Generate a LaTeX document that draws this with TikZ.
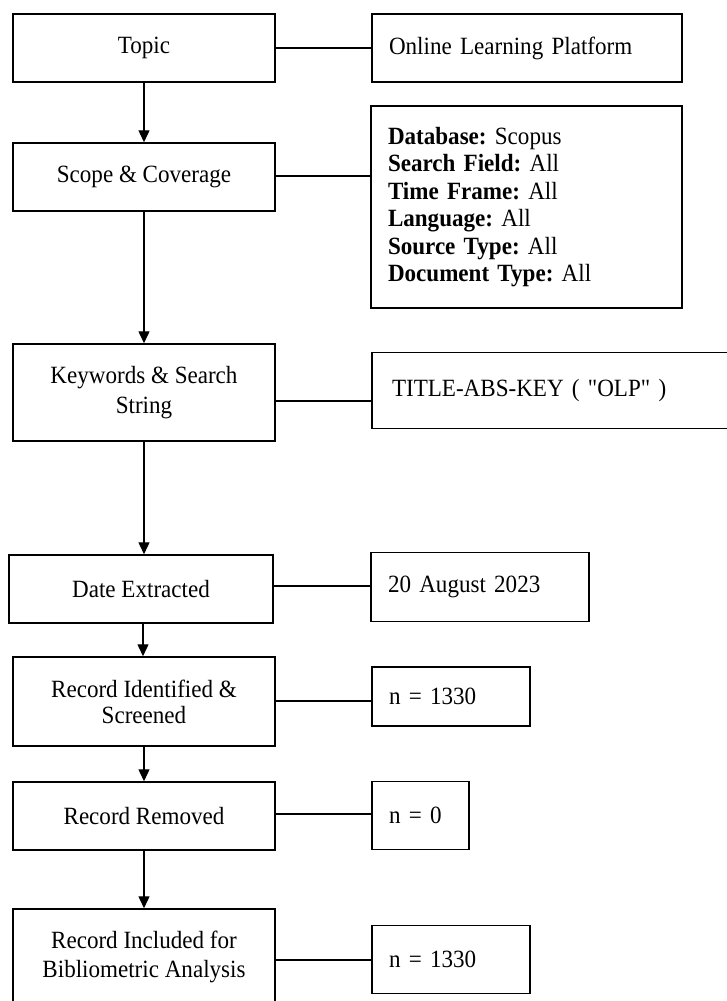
\documentclass[tikz,border=0pt]{standalone}
\usepackage{fontspec}
\setmainfont{Liberation Serif}[Ligatures=TeXOff, FakeStretch=0.93]
\usetikzlibrary{arrows.meta}
\frenchspacing
\begin{document}
\begin{tikzpicture}[x=1pt,y=-1pt,
  every node/.style={font=\fontsize{24.8pt}{27.4pt}\selectfont},
  stage/.style={draw, line width=1.5pt, rectangle, align=center,
    inner sep=0pt, minimum width=262pt},
  info/.style={draw, line width=1.5pt, rectangle, align=left,
    inner xsep=17pt, inner ysep=0pt},
  flow/.style={line width=1.4pt, -{Triangle[length=12pt,width=11pt]}},
  link/.style={line width=1.4pt}]
\useasboundingbox (0,0) rectangle (727,1001);

% main stages (left column)
\node[stage, minimum height=68pt]   (topic)  at (144,48)    {Topic};
\node[stage, minimum height=68pt]   (scope)  at (144,177)   {Scope \& Coverage};
\node[stage, minimum height=97pt]   (kw)     at (144,392.5) {Keywords \& Search\\[2.6pt]String};
\node[stage, minimum height=68pt, minimum width=264pt] (date) at (141,589) {Date Extracted};
\node[stage, minimum height=89pt]   (recid)  at (144,701.5) {Record Identified \&\\[-1.4pt]Screened};
\node[stage, minimum height=68pt]   (recrem) at (144,816)   {Record Removed};
\node[stage, minimum height=95pt]   (recinc) at (144,956.5) {Record Included for\\[1.6pt]Bibliometric Analysis};

% details (right column)
\node[info, text width=276pt, minimum height=68pt]  (olp) at (527,48)    {Online Learning Platform};
\node[info, text width=277pt, minimum height=202pt] (db)  at (526.5,207) {\textbf{Database:} Scopus\\
\textbf{Search Field:} All\\
\textbf{Time Frame:} All\\
\textbf{Language:} All\\
\textbf{Source Type:} All\\
\textbf{Document Type:} All};
\node[info, inner xsep=20pt, text width=328pt, minimum height=76pt] (tak) at (556,390.5)
  {\raisebox{5.5pt}{TITLE-ABS-KEY ( "OLP" )}};
\node[info, text width=184pt, minimum height=69pt] (aug) at (480,587) {20 August 2023};
\node[info, text width=124pt, minimum height=59pt] (n1)  at (451,696.5)  {n = 1330};
\node[info, text width=63pt,  minimum height=68pt] (n0)  at (420.5,815.5) {n = 0};
\node[info, text width=124pt, minimum height=68pt] (n2)  at (451,959.5)  {n = 1330};

% flow arrows
\draw[flow] (topic.south) -- (scope.north);
\draw[flow] (scope.south) -- (kw.north);
\draw[flow] (kw.south) -- (kw.south |- date.north);
\draw[flow] ([xshift=2pt]date.south) -- ([xshift=2pt]date.south |- recid.north);
\draw[flow] (recid.south) -- (recrem.north);
\draw[flow] (recrem.south) -- (recinc.north);

% links to details
\draw[link] (topic.east) -- (olp.west);
\draw[link] ([yshift=1pt]scope.east) -- ([yshift=1pt]scope.east -| db.west);
\draw[link] ([yshift=-8.5pt]kw.east) -- ([yshift=-8.5pt]kw.east -| tak.west);
\draw[link] ([yshift=3pt]date.east) -- ([yshift=3pt]date.east -| aug.west);
\draw[link] ([yshift=0.5pt]recid.east) -- ([yshift=0.5pt]recid.east -| n1.west);
\draw[link] ([yshift=2pt]recrem.east) -- ([yshift=2pt]recrem.east -| n0.west);
\draw[link] ([yshift=-3.5pt]recinc.east) -- ([yshift=-3.5pt]recinc.east -| n2.west);
\end{tikzpicture}
\end{document}
